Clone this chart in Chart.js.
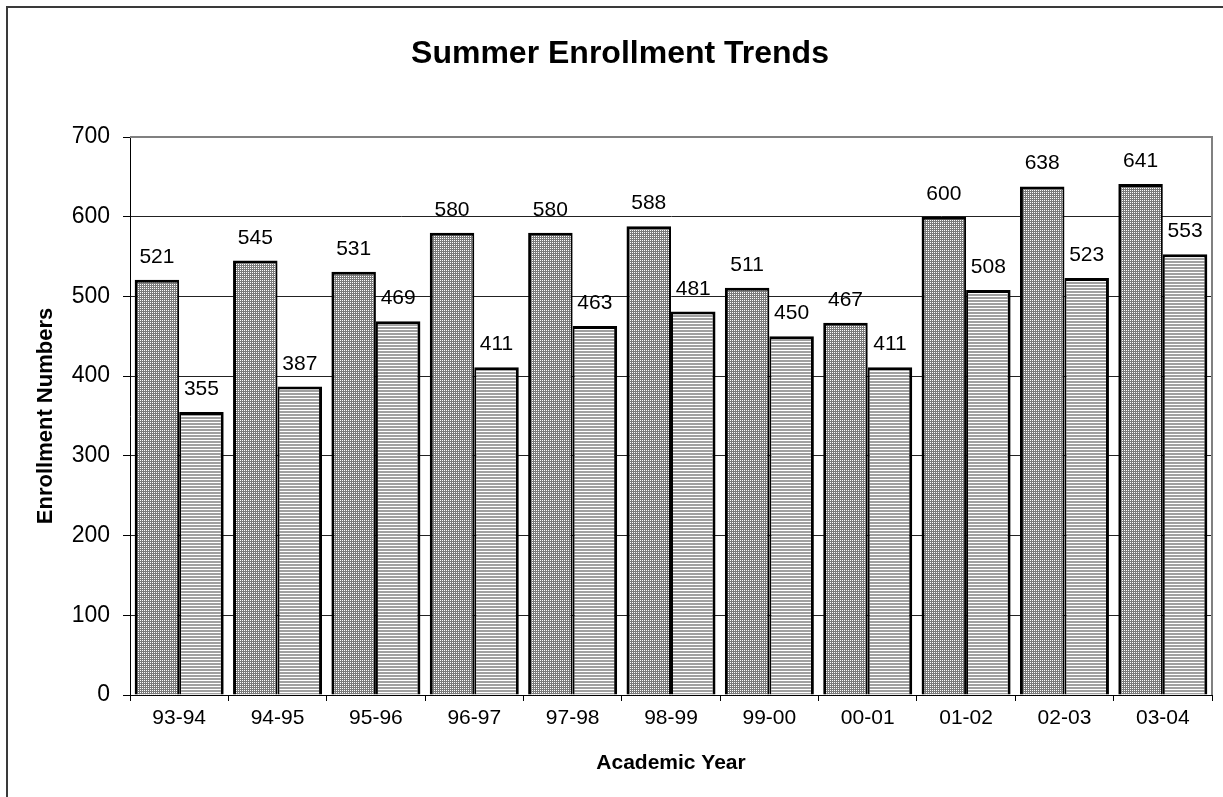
<!DOCTYPE html>
<html>
<head>
<meta charset="utf-8">
<script src="https://cdn.jsdelivr.net/npm/chart.js@4/dist/chart.umd.min.js"></script>
<style>
  body { margin: 0; background: #fff; }
</style>
</head>
<body>
<canvas id="bar-chart" width="1223" height="797"></canvas>
<script>
var years = ["93-94", "94-95", "95-96", "96-97", "97-98", "98-99", "99-00", "00-01", "01-02", "02-03", "03-04"];
var seriesA = [521, 545, 531, 580, 580, 588, 511, 467, 600, 638, 641];
var seriesB = [355, 387, 469, 411, 463, 481, 450, 411, 508, 523, 553];
var yTicks = [0, 100, 200, 300, 400, 500, 600, 700];

var FONT = "'Liberation Sans', Arial, sans-serif";

// dotted fill for the first series
function dotPattern() {
  var c = document.createElement("canvas");
  c.width = 2; c.height = 2;
  var x = c.getContext("2d");
  x.fillStyle = "#7a7a7a";
  x.fillRect(0, 0, 2, 2);
  x.fillStyle = "#ffffff";
  x.fillRect(0, 0, 1, 1);
  return x.createPattern(c, "repeat");
}

// horizontal stripes for the second series
function stripePattern() {
  var c = document.createElement("canvas");
  c.width = 3; c.height = 3;
  var x = c.getContext("2d");
  x.fillStyle = "#a0a0a0";
  x.fillRect(0, 0, 3, 2);
  x.fillStyle = "#ffffff";
  x.fillRect(0, 2, 3, 1);
  return x.createPattern(c, "repeat");
}

var ctx = document.getElementById("bar-chart").getContext("2d");

var framePlugin = {
  id: "frame",
  beforeDraw: function (chart) {
    var c = chart.ctx;
    c.save();
    c.strokeStyle = "#3a3a3a";
    c.lineWidth = 2;
    c.strokeRect(7, 7, chart.width + 20, chart.height + 20);
    c.restore();
  },
  beforeDatasetsDraw: function (chart) {
    var a = chart.chartArea, c = chart.ctx;
    c.save();
    c.strokeStyle = "#808080";
    c.lineWidth = 2;
    c.beginPath();
    c.moveTo(a.left, a.top);
    c.lineTo(a.right, a.top);
    c.lineTo(a.right, a.bottom);
    c.stroke();
    c.restore();
  }
};

var labelPlugin = {
  id: "barLabels",
  afterDatasetsDraw: function (chart) {
    var c = chart.ctx;
    c.save();
    c.font = "21px " + FONT;
    c.fillStyle = "#000";
    c.textAlign = "center";
    c.textBaseline = "alphabetic";
    chart.data.datasets.forEach(function (ds, i) {
      chart.getDatasetMeta(i).data.forEach(function (bar, j) {
        c.fillText(String(ds.data[j]), bar.x, bar.y - 17);
      });
    });
    c.restore();
  }
};

new Chart(ctx, {
  type: "bar",
  data: {
    labels: years,
    datasets: [
      {
        label: "A",
        data: seriesA,
        backgroundColor: dotPattern(),
        borderColor: "#000",
        borderWidth: { left: 3, top: 3, right: 2, bottom: 0 },
        borderSkipped: false,
        categoryPercentage: 0.905,
        barPercentage: 1.0
      },
      {
        label: "B",
        data: seriesB,
        backgroundColor: stripePattern(),
        borderColor: "#000",
        borderWidth: { left: 2, top: 3, right: 3, bottom: 0 },
        borderSkipped: false,
        categoryPercentage: 0.905,
        barPercentage: 1.0
      }
    ]
  },
  options: {
    responsive: false,
    animation: false,
    layout: { padding: { left: 28, right: 11, top: 0, bottom: 0 } },
    plugins: {
      legend: { display: false },
      tooltip: { enabled: false },
      title: {
        display: true,
        text: "Summer Enrollment Trends",
        color: "#000",
        font: { family: FONT, size: 32, weight: "bold" },
        padding: { top: 35, bottom: 63.6 }
      }
    },
    scales: {
      x: {
        afterFit: function (s) { s.height = 102; },
        grid: {
          drawOnChartArea: false,
          tickLength: 6,
          tickColor: "#000",
          offset: true
        },
        border: { color: "#000", width: 1 },
        ticks: {
          color: "#000",
          padding: 5,
          font: { family: FONT, size: 21 }
        },
        title: {
          display: true,
          text: "Academic Year",
          color: "#000",
          font: { family: FONT, size: 21, weight: "bold" },
          padding: { top: 0, bottom: 21 }
        }
      },
      y: {
        min: 0,
        max: 700,
        afterFit: function (s) { s.width = 102; },
        afterBuildTicks: function (s) {
          s.ticks = yTicks.map(function (v) { return { value: v }; });
        },
        grid: {
          color: function (c) { return c.tick && c.tick.value === 700 ? "rgba(0,0,0,0)" : "#222"; },
          lineWidth: 1,
          tickLength: 7,
          tickColor: "#000"
        },
        border: { color: "#000", width: 1 },
        ticks: {
          color: "#000",
          padding: 13,
          font: { family: FONT, size: 23 }
        },
        title: {
          display: true,
          text: "Enrollment Numbers",
          color: "#000",
          font: { family: FONT, size: 22, weight: "bold" },
          padding: { top: 5, bottom: 0 }
        }
      }
    }
  },
  plugins: [framePlugin, labelPlugin]
});
</script>
</body>
</html>
